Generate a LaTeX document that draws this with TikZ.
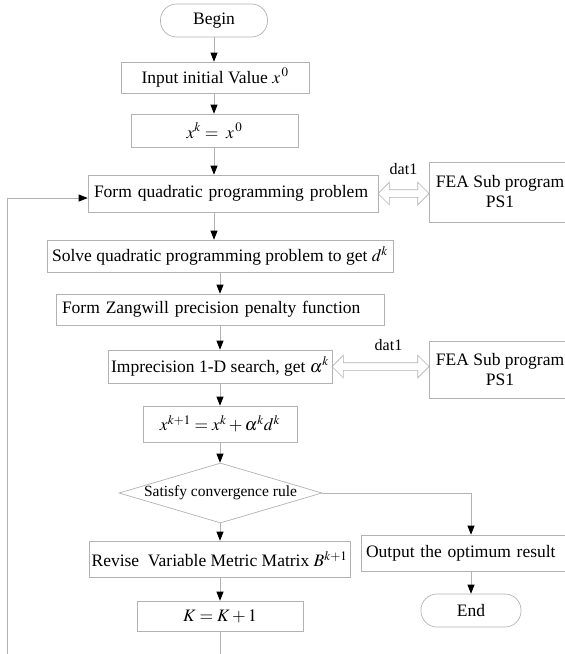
\documentclass[tikz,border=0pt]{standalone}
\usepackage{mathptmx}
\usepackage{fontspec}
\setmainfont{Liberation Serif}
\usetikzlibrary{arrows.meta,shapes.geometric,shapes.arrows,calc,positioning}

\definecolor{linegray}{RGB}{178,178,178}
\newcommand{\fsmain}{\fontsize{17.5}{20}\selectfont}
\newcommand{\fsdec}{\fontsize{15.5}{17}\selectfont}
\newcommand{\fslbl}{\fontsize{16}{18}\selectfont}

\tikzset{
  procbox/.style={draw=linegray,line width=0.7pt,inner sep=0pt,font=\fsmain},
  termbox/.style={procbox,rounded corners=16pt},
  decbox/.style={diamond,draw=linegray,line width=0.7pt,aspect=3.38,inner sep=0pt,
    minimum width=203pt,minimum height=60pt,font=\fsdec},
  dblarrow/.style={double arrow,draw=linegray,line width=0.7pt,inner sep=0pt,
    text height=7pt,text depth=0pt,double arrow head extend=7.5pt},
  flow/.style={draw=linegray,line width=0.7pt,-{Triangle[length=9pt,width=7pt,color=black]}},
  lbl/.style={inner sep=0pt,font=\fslbl}
}

\begin{document}
\begin{tikzpicture}[x=1pt,y=-1pt]
  \useasboundingbox (0,0) rectangle (565,654);

  % column lines
  \coordinate (colA) at (214,0);
  \coordinate (colB) at (220,0);
  \coordinate (colE) at (471,0);

  % main column
  \node[termbox,minimum width=107pt,minimum height=33pt] (begin) at (214,20.5) {Begin};
  \node[procbox,minimum width=188pt,minimum height=31pt] (in0) at (215,77.5) {Input initial Value $x^{\,0}$};
  \node[procbox,minimum width=167pt,minimum height=33pt] (xk) at (214.5,130.5) {$x^{k} = \; x^{\,0}$};
  \node[procbox,minimum width=290pt,minimum height=37pt,text width=278pt,align=left] (qp) at (233,193.5) {Form quadratic programming problem};
  \node[procbox,minimum width=346pt,minimum height=32pt] (sv) at (220,256) {Solve quadratic programming problem to get $d^{k}$};
  \node[procbox,minimum width=328pt,minimum height=31pt,text width=316pt,align=left] (zg) at (220,309.5) {Form Zangwill precision penalty function};
  \node[procbox,minimum width=224pt,minimum height=33pt] (im) at (220,366.5) {Imprecision 1-D search, get $\alpha^{k}$};
  \node[procbox,minimum width=154pt,minimum height=36pt] (xk1) at (220,424) {$x^{k+1} = x^{k} + \alpha^{k} d^{k}$};
  \node[decbox] (dc) at (220.5,493) {Satisfy convergence rule};
  \node[procbox,minimum width=261pt,minimum height=36pt] (rv) at (219.5,559) {Revise\ \ Variable Metric Matrix $B^{k+1}$};
  \node[procbox,minimum width=166pt,minimum height=30pt] (kk) at (220,616) {$K = K + 1$};

  % right side
  \node[procbox,minimum width=142pt,minimum height=60pt,align=center] (fea1) at (500,192) {FEA Sub program\\PS1};
  \node[procbox,minimum width=142pt,minimum height=57pt,align=center] (fea2) at (500,369.5) {FEA Sub program\\PS1};
  \node[procbox,minimum width=214pt,minimum height=36pt,text width=204pt,align=left] (out) at (468,553) {Output the optimum result};
  \node[termbox,minimum width=100pt,minimum height=33pt] (end) at (471,610.5) {End};

  % data exchange
  \node[dblarrow,minimum height=51pt] (ar1) at ($(qp.east)!0.5!(fea1.west |- qp.east)$) {};
  \node[lbl] (d1) at ($(ar1.center)+(0,-24)$) {dat1};
  \node[dblarrow,minimum height=97pt] (ar2) at ($(im.east)!0.5!(fea2.west |- im.east)$) {};
  \node[lbl] (d2) at ($(ar2.center)+(8,-21)$) {dat1};

  % flow
  \draw[flow] (begin.south -| colA) -- (in0.north -| colA);
  \draw[flow] (in0.south -| colA) -- (xk.north -| colA);
  \draw[flow] (xk.south -| colA) -- (qp.north -| colA);
  \draw[flow] (qp.south -| colA) -- (sv.north -| colA);
  \draw[flow] (sv.south -| colB) -- (zg.north -| colB);
  \draw[flow] (zg.south -| colB) -- (im.north -| colB);
  \draw[flow] (im.south -| colB) -- (xk1.north -| colB);
  \draw[flow] (xk1.south -| colB) -- (dc.north -| colB);
  \draw[flow] (dc.south -| colB) -- (rv.north -| colB);
  \draw[flow] (rv.south -| colB) -- (kk.north -| colB);
  \draw[flow] (dc.east) -| (out.north -| colE);
  \draw[flow] (out.south -| colE) -- (end.north);

  % loop back
  \coordinate (loopbot) at (7,680);
  \draw[flow] (kk.south) |- (loopbot) |- ($(qp.west)+(0,4.5)$);
\end{tikzpicture}
\end{document}
